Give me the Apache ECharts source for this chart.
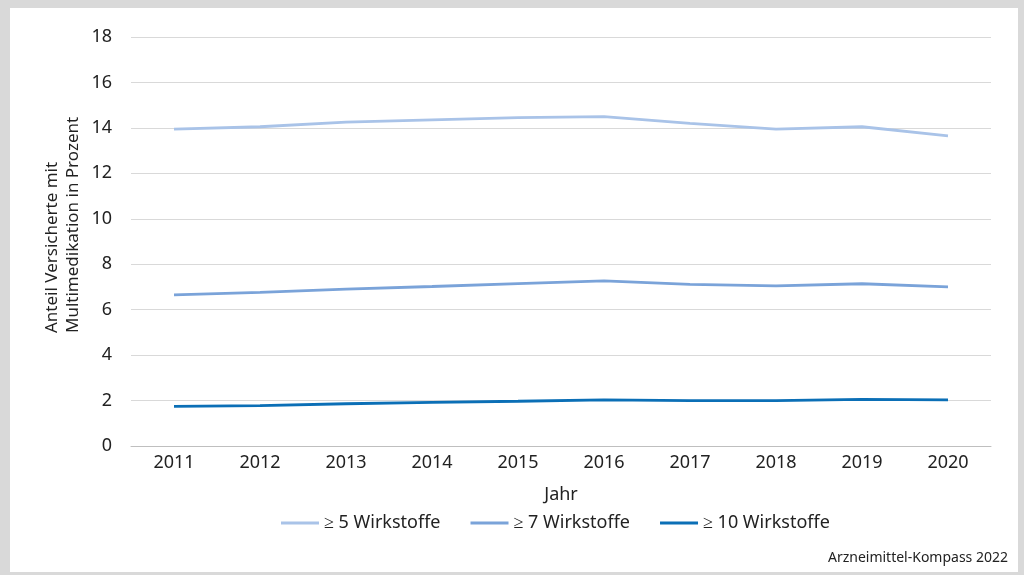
<!DOCTYPE html>
<html>
<head>
<meta charset="utf-8">
<script src="https://cdn.jsdelivr.net/npm/echarts@6/dist/echarts.min.js"></script>
<style>
  html, body { margin: 0; padding: 0; background: #d9d9d9; }
  #frame { position: absolute; left: 0; top: 0; width: 1024px; height: 575px; background: #d9d9d9; }
  #main { position: absolute; left: 10px; top: 8px; width: 1008px; height: 564px; background: #fff; }
</style>
</head>
<body>
<div id="frame"><div id="main"></div></div>
<script>
// Jahre
var years = ['2011', '2012', '2013', '2014', '2015', '2016', '2017', '2018', '2019', '2020']
// Anteil Versicherte mit Multimedikation (%)
var ab5 = [13.95, 14.05, 14.25, 14.35, 14.45, 14.5, 14.2, 13.95, 14.05, 13.65]
var ab7 = [6.65, 6.76, 6.9, 7.02, 7.15, 7.27, 7.11, 7.05, 7.14, 7.0]
var ab10 = [1.74, 1.78, 1.86, 1.92, 1.97, 2.03, 2.0, 2.0, 2.05, 2.03]
var seriesNames = ['≥ 5 Wirkstoffe', '≥ 7 Wirkstoffe', '≥ 10 Wirkstoffe']

var font = 'Noto Sans'
var chart = echarts.init(document.getElementById('main'))

function lineSeries(name, data, color) {
  return {
    name: name,
    type: 'line',
    data: data,
    symbol: 'none',
    smooth: false,
    lineStyle: { color: color, width: 2.8 },
    itemStyle: { color: color }
  }
}

chart.setOption({
  animation: false,
  textStyle: { fontFamily: font },
  grid: { left: 121, right: 27, top: 29, bottom: 126 },
  legend: {
    data: seriesNames,
    bottom: 35,
    left: 266,
    itemWidth: 38,
    itemHeight: 3,
    itemGap: 30,
    icon: 'rect',
    textStyle: { fontFamily: font, fontSize: 18, color: '#222' }
  },
  graphic: [{
    // y-Achsentitel, zweizeilig, linksbündig
    type: 'text',
    x: 53,
    y: 325,
    rotation: Math.PI / 2,
    style: {
      text: 'Anteil Versicherte mit\nMultimedikation in Prozent',
      fontFamily: font, fontSize: 17, lineHeight: 21, fill: '#222',
      align: 'left', verticalAlign: 'middle'
    }
  }, {
    type: 'text',
    right: 10,
    bottom: 7,
    style: { text: 'Arzneimittel-Kompass 2022', fontFamily: font, fontSize: 14, fill: '#222' }
  }],
  xAxis: {
    type: 'category',
    data: years,
    boundaryGap: true,
    name: 'Jahr',
    nameLocation: 'middle',
    nameGap: 40,
    nameTextStyle: { fontFamily: font, fontSize: 18, color: '#222' },
    axisLine: { lineStyle: { color: '#bfbfbf' } },
    axisTick: { show: false },
    axisLabel: { fontFamily: font, fontSize: 18, color: '#222', margin: 8 }
  },
  yAxis: {
    type: 'value',
    min: 0,
    max: 18,
    interval: 2,
    axisLine: { show: false },
    axisTick: { show: false },
    axisLabel: { fontFamily: font, fontSize: 18, color: '#222', margin: 19 },
    splitLine: { lineStyle: { color: '#d9d9d9' } }
  },
  series: [
    lineSeries(seriesNames[0], ab5, '#a9c3e8'),
    lineSeries(seriesNames[1], ab7, '#7aa3d9'),
    lineSeries(seriesNames[2], ab10, '#0b6fb6')
  ]
})
</script>
</body>
</html>
